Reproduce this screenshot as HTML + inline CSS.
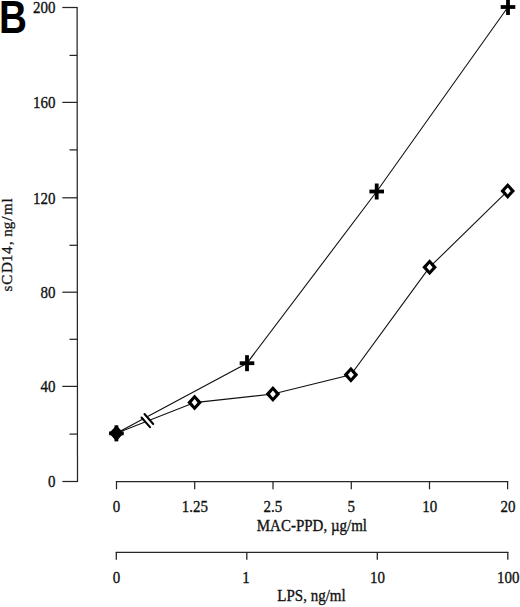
<!DOCTYPE html>
<html><head><meta charset="utf-8">
<style>
html,body{margin:0;padding:0;background:#fff;width:520px;height:607px;overflow:hidden}
svg{display:block}
text{font-family:"Liberation Serif",serif;font-size:15px;fill:#111;stroke:#111;stroke-width:0.3}
.B{font-family:"Liberation Sans",sans-serif;font-weight:bold;font-size:38.7px;fill:#000;stroke:none}
</style></head><body>
<svg width="520" height="607" viewBox="0 0 520 607">
<rect width="520" height="607" fill="#fff"/>
<text class="B" transform="translate(-1.1,33.1) scale(1,1.21)">B</text>
<g stroke="#262626" stroke-width="1.25" fill="none">
<line x1="77.1" y1="6.9" x2="77.5" y2="482.1"/>
<line x1="62.3" y1="7.5" x2="77.10" y2="7.5"/>
<line x1="62.3" y1="102.4" x2="77.18" y2="102.4"/>
<line x1="62.3" y1="197.8" x2="77.26" y2="197.8"/>
<line x1="62.3" y1="292.2" x2="77.34" y2="292.2"/>
<line x1="62.3" y1="386.4" x2="77.42" y2="386.4"/>
<line x1="62.3" y1="481.5" x2="77.50" y2="481.5"/>
<line x1="69.5" y1="55.4" x2="77.14" y2="55.4"/>
<line x1="69.5" y1="149.9" x2="77.22" y2="149.9"/>
<line x1="69.5" y1="245.3" x2="77.30" y2="245.3"/>
<line x1="69.5" y1="339.3" x2="77.38" y2="339.3"/>
<line x1="69.5" y1="434.1" x2="77.46" y2="434.1"/>
</g>
<g stroke="#262626" stroke-width="1.25" fill="none">
<line x1="115.9" y1="481.5" x2="508.20000000000005" y2="481.5"/>
<line x1="116.5" y1="481" x2="116.5" y2="489.3"/>
<line x1="194.7" y1="481" x2="194.7" y2="489.3"/>
<line x1="273.0" y1="481" x2="273.0" y2="489.3"/>
<line x1="351.3" y1="481" x2="351.3" y2="489.3"/>
<line x1="429.5" y1="481" x2="429.5" y2="489.3"/>
<line x1="507.6" y1="481" x2="507.6" y2="489.3"/>
</g>
<g stroke="#262626" stroke-width="1.3" fill="none">
<line x1="115.7" y1="552.3" x2="508.40000000000003" y2="552.3"/>
<line x1="116.3" y1="552" x2="116.3" y2="559.7"/>
<line x1="246.8" y1="552" x2="246.8" y2="559.7"/>
<line x1="377.3" y1="552" x2="377.3" y2="559.7"/>
<line x1="507.8" y1="552" x2="507.8" y2="559.7"/>
</g>
<g text-anchor="end">
<text transform="translate(55.4,13.3) scale(1,1.15)">200</text>
<text transform="translate(55.4,108.2) scale(1,1.15)">160</text>
<text transform="translate(55.4,203.5) scale(1,1.15)">120</text>
<text transform="translate(55.4,297.9) scale(1,1.15)">80</text>
<text transform="translate(55.4,392.0) scale(1,1.15)">40</text>
<text transform="translate(55.4,486.9) scale(1,1.15)">0</text>
</g>
<text transform="translate(12.4,290.8) rotate(-90)" x="-0.6 6.0 17.7 28.8 36.9 45.7 50 54.1 61.6 70 75.7 88.2">sCD14, ng/ml</text>
<g text-anchor="middle">
<text transform="translate(116.6,512.2) scale(1,1.15)">0</text>
<text transform="translate(194.8,512.2) scale(1,1.15)">1.25</text>
<text transform="translate(272.8,512.2) scale(1,1.15)">2.5</text>
<text transform="translate(351.3,512.2) scale(1,1.15)">5</text>
<text transform="translate(429.7,512.2) scale(1,1.15)">10</text>
<text transform="translate(508,512.2) scale(1,1.15)">20</text>
<text transform="translate(311.9,530.5) scale(1,1.15)">MAC-PPD, µg/ml</text>
<text transform="translate(116.6,583) scale(1,1.15)">0</text>
<text transform="translate(246.0,583) scale(1,1.15)">1</text>
<text transform="translate(377.6,583) scale(1,1.15)">10</text>
<text transform="translate(508.2,583) scale(1,1.15)">100</text>
<text transform="translate(311.5,601.2) scale(1,1.15)">LPS, ng/ml</text>
</g>
<g stroke="#111" stroke-width="1.1" fill="none">
<polyline points="116.4,433.35 247,363.2 376.7,191.5 508,7"/>
<polyline points="116.4,433.35 194.6,402.6 272.9,394 350.9,374.8 429.6,267.2 507.7,190.9"/>
</g>
<polygon points="142.5,416.5 145.5,413 152,425 149,428.5" fill="#fff"/>
<g stroke="#000" stroke-width="2" stroke-linecap="round">
<line x1="141.5" y1="417.5" x2="150" y2="427.2"/>
<line x1="144.5" y1="414" x2="153.2" y2="424"/>
</g>
<g fill="#000" fill-rule="evenodd">
<path fill="#fff" d="M194.60,398.90 L197.80,402.60 L194.60,406.30 L191.40,402.60 Z"/>
<path d="M194.60,394.60 L201.90,402.60 L194.60,410.60 L187.30,402.60 Z M194.60,399.10 L197.60,402.60 L194.60,406.10 L191.60,402.60 Z"/>
<path fill="#fff" d="M272.90,390.30 L276.10,394.00 L272.90,397.70 L269.70,394.00 Z"/>
<path d="M272.90,386.00 L280.20,394.00 L272.90,402.00 L265.60,394.00 Z M272.90,390.50 L275.90,394.00 L272.90,397.50 L269.90,394.00 Z"/>
<path fill="#fff" d="M350.90,371.10 L354.10,374.80 L350.90,378.50 L347.70,374.80 Z"/>
<path d="M350.90,366.80 L358.20,374.80 L350.90,382.80 L343.60,374.80 Z M350.90,371.30 L353.90,374.80 L350.90,378.30 L347.90,374.80 Z"/>
<path fill="#fff" d="M429.60,263.50 L432.80,267.20 L429.60,270.90 L426.40,267.20 Z"/>
<path d="M429.60,259.20 L436.90,267.20 L429.60,275.20 L422.30,267.20 Z M429.60,263.70 L432.60,267.20 L429.60,270.70 L426.60,267.20 Z"/>
<path fill="#fff" d="M507.70,187.20 L510.90,190.90 L507.70,194.60 L504.50,190.90 Z"/>
<path d="M507.70,182.90 L515.00,190.90 L507.70,198.90 L500.40,190.90 Z M507.70,187.40 L510.70,190.90 L507.70,194.40 L504.70,190.90 Z"/>
<path d="M116.40,425.35 L123.70,433.35 L116.40,441.35 L109.10,433.35 Z"/>
</g>
<g fill="#000">
<rect x="109.10" y="431.45" width="14.6" height="3.8"/><rect x="114.50" y="425.35" width="3.8" height="16"/>
<rect x="239.70" y="361.30" width="14.6" height="3.8"/><rect x="245.10" y="355.20" width="3.8" height="16"/>
<rect x="369.40" y="189.60" width="14.6" height="3.8"/><rect x="374.80" y="183.50" width="3.8" height="16"/>
<rect x="500.70" y="5.10" width="14.6" height="3.8"/><rect x="506.10" y="-1.00" width="3.8" height="16"/>
</g>
</svg>
</body></html>
